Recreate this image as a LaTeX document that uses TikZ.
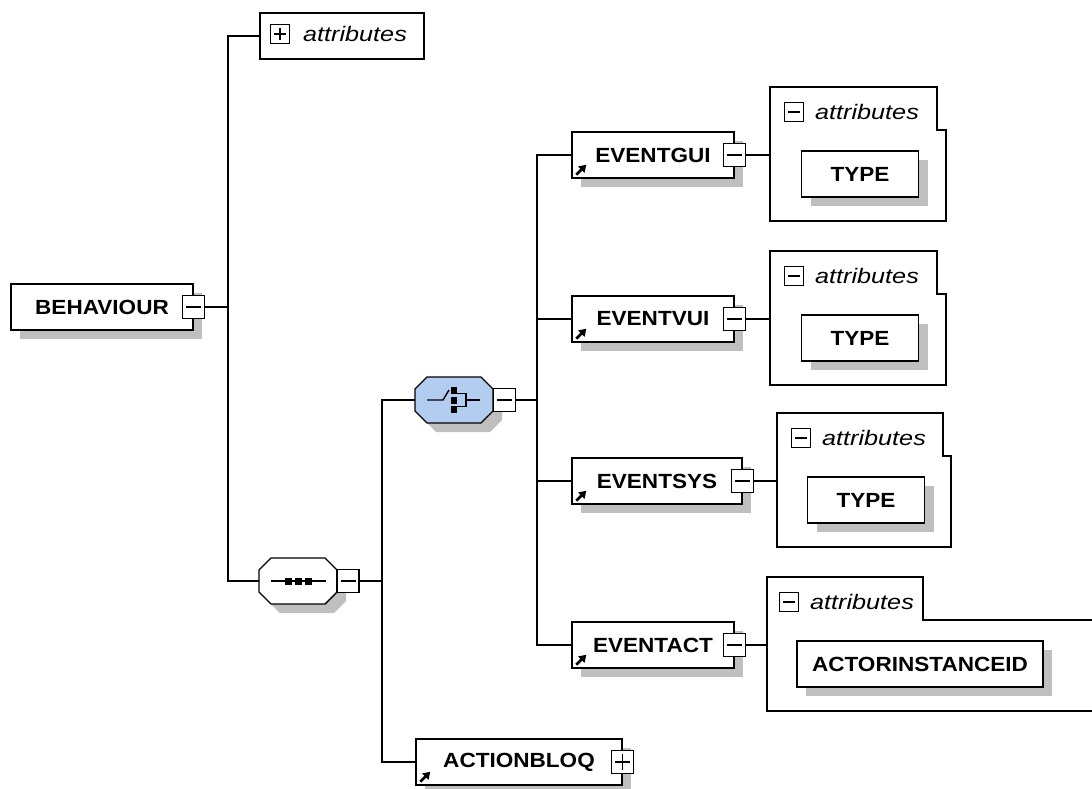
\documentclass[tikz,border=0pt]{standalone}
\usepackage{fontspec}
\newfontfamily\lab[FakeStretch=1.1]{Liberation Sans}
\newfontfamily\labit[FakeStretch=1.2]{Liberation Sans}
\usetikzlibrary{shadows,arrows.meta}
\definecolor{chblue}{RGB}{178,205,240}
\newcommand\octpath[2]{(#1-39,#2-11) -- (#1-27,#2-23) -- (#1+27,#2-23) -- (#1+39,#2-11) -- (#1+39,#2+11) -- (#1+27,#2+23) -- (#1-27,#2+23) -- (#1-39,#2+11) -- cycle}
\newcommand\grouppath[4]{(#1,#2-68) -- (#3,#2-68) -- (#3,#2-25) -- (#4,#2-25) -- (#4,#2+66) -- (#1,#2+66) -- cycle}
\begin{document}
\begin{tikzpicture}[x=1pt,y=-1pt,
  conn/.style={line width=1.4pt},
  elem/.style={draw, line width=1.4pt, fill=white, minimum height=46pt, inner sep=0pt,
    font=\lab\fontsize{20.5}{23}\selectfont\bfseries,
    drop shadow={shadow xshift=9pt, shadow yshift=-9pt, fill=black!25, opacity=1}},
  plainbox/.style={draw, line width=1.4pt, fill=white, minimum height=46pt, inner sep=0pt},
  tog/.style={draw, line width=1.3pt, fill=white, minimum width=22pt, minimum height=23pt, inner sep=0pt},
  atog/.style={draw, line width=1.3pt, fill=white, minimum width=19pt, minimum height=19pt, inner sep=0pt},
  togminus/.style={path picture={\draw[line width=1.3pt] ([xshift=3.5pt]path picture bounding box.west) -- ([xshift=-3.5pt]path picture bounding box.east);}},
  togplus/.style={path picture={\draw[line width=1.3pt] ([xshift=3.5pt]path picture bounding box.west) -- ([xshift=-3.5pt]path picture bounding box.east);
     \draw[line width=1.3pt] ([yshift=-3.5pt]path picture bounding box.north) -- ([yshift=3.5pt]path picture bounding box.south);}},
  attrtxt/.style={font=\labit\fontsize{21}{23}\selectfont\itshape, inner sep=0pt, anchor=west},
  grp/.style={draw, line width=1.4pt},
  shortcut/.style={line width=2.5pt, -{Triangle[length=7pt, width=8.5pt]}},
  hub/.style={draw=none, minimum width=78pt, minimum height=46pt, inner sep=0pt}
]
\useasboundingbox (0,0) rectangle (1092,789);
\clip (0,0) rectangle (1092,789);
\fill[white] (0,0) rectangle (1092,789);

% junction coordinates
\coordinate (j1) at (228,307);
\coordinate (j3) at (382,581);
\coordinate (j2) at (537,400);

% ---- root
\node[elem, minimum width=182pt] (beh) at (102,307) {BEHAVIOUR};
\node[tog, togminus] (behT) at (beh.east) {};

% ---- top attributes
\node[plainbox, minimum width=164pt] (attr0) at (342,36) {};
\node[atog, togplus] (attr0T) at (280,34) {};
\node[attrtxt] (attr0L) at (303,34) {attributes};

% ---- sequence
\node[hub] (seq) at (298,581) {};
\fill[black!25, shift={(9,9)}] \octpath{298}{581};
\draw[line width=1.4pt, fill=white] \octpath{298}{581};
\draw[line width=1.4pt] (271,581) -- (326,581);
\foreach \xx in {288,298,308} \fill (\xx-3.5,577.5) rectangle (\xx+3.5,584.5);
\node[tog, togminus] (seqT) at (348,581) {};

% ---- choice
\node[hub] (ch) at (454,400) {};
\fill[black!25, shift={(9,9)}] \octpath{454}{400};
\draw[line width=1.4pt, fill=chblue] \octpath{454}{400};
\draw[line width=1.4pt] (427,400) -- (443,400) -- (449,390);
\foreach \yy in {390.5,400,409.5} \fill (451,\yy-3.5) rectangle (457,\yy+3.5);
\draw[line width=1.4pt] (457,393.5) -- (466,393.5) -- (466,406.5) -- (457,406.5);
\draw[line width=1.4pt] (466,400) -- (480,400);
\node[tog, togminus] (chT) at (504.5,400) {};

% ---- ACTIONBLOQ
\node[elem, minimum width=206pt] (ab) at (519,762) {ACTIONBLOQ};
\draw[shortcut] ([shift={(5,-4)}]ab.south west) -- ++(10,-10);
\node[tog, togplus] (abT) at (ab.east) {};

% ---- EVENTGUI
\draw[grp] \grouppath{770}{155}{937}{946};
\coordinate (gGUI) at (770,155);
\node[atog, togminus] (gGUIT) at (794,112) {};
\node[attrtxt] (gGUIL) at (815,112) {attributes};
\node[elem, minimum width=117pt] (tGUI) at (860,174) {TYPE};
\node[elem, minimum width=162pt] (eGUI) at (653,155) {EVENTGUI};
\draw[shortcut] ([shift={(5,-4)}]eGUI.south west) -- ++(10,-10);
\node[tog, togminus] (eGUIT) at (eGUI.east) {};

% ---- EVENTVUI
\draw[grp] \grouppath{770}{319}{937}{946};
\coordinate (gVUI) at (770,319);
\node[atog, togminus] (gVUIT) at (794,276) {};
\node[attrtxt] (gVUIL) at (815,276) {attributes};
\node[elem, minimum width=117pt] (tVUI) at (860,338) {TYPE};
\node[elem, minimum width=162pt] (eVUI) at (653,319) {EVENTVUI};
\draw[shortcut] ([shift={(5,-4)}]eVUI.south west) -- ++(10,-10);
\node[tog, togminus] (eVUIT) at (eVUI.east) {};

% ---- EVENTSYS
\draw[grp] \grouppath{777}{481}{943}{951};
\coordinate (gSYS) at (777,481);
\node[atog, togminus] (gSYST) at (801,438) {};
\node[attrtxt] (gSYSL) at (822,438) {attributes};
\node[elem, minimum width=117pt] (tSYS) at (866,500) {TYPE};
\node[elem, minimum width=170pt] (eSYS) at (657,481) {EVENTSYS};
\draw[shortcut] ([shift={(5,-4)}]eSYS.south west) -- ++(10,-10);
\node[tog, togminus] (eSYST) at (eSYS.east) {};

% ---- EVENTACT
\draw[grp] \grouppath{767}{645}{923}{1100};
\coordinate (gACT) at (767,645);
\node[atog, togminus] (gACTT) at (789,602) {};
\node[attrtxt] (gACTL) at (810,602) {attributes};
\node[elem, minimum width=246pt] (tACT) at (920,664) {ACTORINSTANCEID};
\node[elem, minimum width=162pt] (eACT) at (653,645) {EVENTACT};
\draw[shortcut] ([shift={(5,-4)}]eACT.south west) -- ++(10,-10);
\node[tog, togminus] (eACTT) at (eACT.east) {};

% ---- connectors
\draw[conn] (behT.east) -- (j1);
\draw[conn] (attr0.west) -| (j1);
\draw[conn] (seq.west) -| (j1);
\draw[conn] (seqT.east) -- (j3);
\draw[conn] (ch.west) -| (j3);
\draw[conn] (ab.west) -| (j3);
\draw[conn] (chT.east) -- (j2);
\draw[conn] (eGUI.west) -| (j2);
\draw[conn] (eVUI.west) -| (j2);
\draw[conn] (eSYS.west) -| (j2);
\draw[conn] (eACT.west) -| (j2);
\draw[conn] (eGUIT.east) -- (gGUI);
\draw[conn] (eVUIT.east) -- (gVUI);
\draw[conn] (eSYST.east) -- (gSYS);
\draw[conn] (eACTT.east) -- (gACT);
\end{tikzpicture}
\end{document}
